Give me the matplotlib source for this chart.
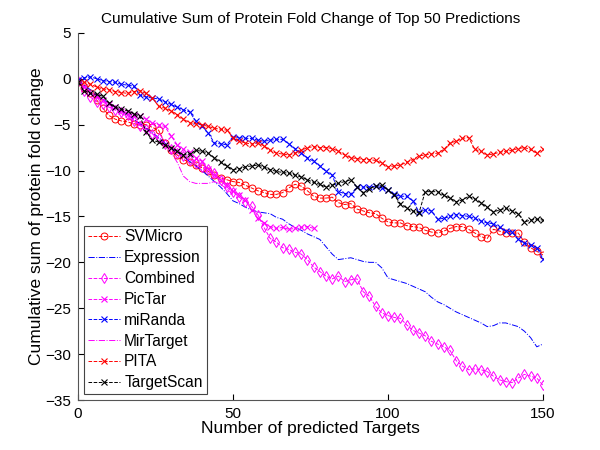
import numpy as np
import matplotlib
matplotlib.use('Agg')
import matplotlib.pyplot as plt

plt.rcParams['font.family'] = ['Liberation Sans', 'DejaVu Sans']

# number of predicted targets (every second one)
targets = np.arange(0, 151, 2)
targets_pictar = np.arange(0, 77, 2)
targets_mirtarget = np.arange(0, 51, 2)

svmicro = [-0.3, -1.0, -1.6, -2.3, -3.2, -4.0, -4.4, -4.6, -4.7, -4.9,
           -5.0, -5.0, -5.3, -5.6, -7.0, -7.8, -8.3, -8.8, -9.1, -9.4,
           -9.7, -10.1, -10.5, -10.8, -11.0, -11.2, -11.3, -11.6, -11.9, -12.2,
           -12.4, -12.6, -12.6, -12.4, -11.9, -11.5, -11.7, -12.2, -12.8, -13.0,
           -13.0, -12.9, -13.5, -13.7, -13.6, -14.2, -14.4, -14.6, -14.7, -15.2,
           -15.6, -15.7, -15.7, -16.0, -16.1, -16.2, -16.5, -16.7, -16.8, -16.6,
           -16.3, -16.1, -16.1, -16.4, -16.8, -17.2, -17.4, -16.4, -16.6, -16.8,
           -16.8, -16.8, -17.8, -18.4, -18.8, -19.2]
expression = [-0.2, -0.7, -1.2, -1.7, -2.2, -2.7, -3.1, -3.5, -3.9, -4.4,
              -4.9, -5.4, -5.9, -6.4, -7.0, -7.5, -8.0, -8.5, -9.0, -9.5,
              -10.0, -10.6, -11.2, -11.8, -12.5, -13.3, -13.6, -14.0, -14.3, -14.5,
              -14.6, -14.7, -15.1, -15.3, -15.8, -16.2, -16.5, -16.9, -17.2, -17.5,
              -18.3, -19.1, -19.7, -19.6, -19.5, -19.7, -19.9, -20.0, -20.0, -20.6,
              -21.7, -21.9, -22.1, -22.3, -22.6, -22.9, -23.2, -23.8, -24.3, -24.6,
              -25.0, -25.4, -25.7, -26.0, -26.3, -26.6, -27.0, -26.9, -26.6, -26.6,
              -26.8, -27.0, -27.5, -28.2, -29.2, -28.9]
combined = [-0.2, -1.3, -2.0, -2.5, -2.8, -3.1, -3.4, -3.6, -4.0, -4.6,
            -5.1, -5.5, -6.0, -6.5, -7.1, -7.7, -8.1, -8.4, -8.8, -9.2,
            -9.6, -9.8, -10.3, -11.0, -11.8, -12.3, -12.9, -13.4, -13.9, -14.8,
            -16.2, -17.4, -17.8, -18.4, -18.6, -18.9, -19.1, -19.7, -20.5, -21.0,
            -21.5, -21.8, -21.5, -22.1, -21.9, -21.8, -23.2, -23.7, -24.8, -25.5,
            -25.8, -26.0, -26.1, -26.8, -27.4, -27.7, -28.0, -28.6, -28.9, -29.2,
            -29.6, -30.7, -31.3, -31.7, -31.6, -31.7, -31.9, -32.4, -32.8, -33.0,
            -33.1, -32.6, -32.2, -32.4, -32.6, -33.4]
pictar = [-0.1, -0.9, -1.5, -1.9, -2.3, -2.7, -3.1, -3.5, -3.8, -4.0,
          -4.1, -4.4, -4.8, -5.0, -5.2, -6.2, -7.2, -7.7, -8.0, -8.6,
          -9.0, -9.8, -10.5, -11.0, -11.6, -12.2, -12.7, -13.2, -14.3, -15.2,
          -15.7, -16.1, -16.3, -16.2, -16.4, -16.3, -16.2, -16.1, -16.3]
miranda = [-0.1, 0.1, 0.2, 0.0, -0.2, -0.3, -0.4, -0.6, -0.7, -0.8,
           -1.8, -2.0, -2.1, -2.2, -2.5, -2.8, -3.1, -3.4, -3.6, -4.6,
           -5.2, -5.9, -7.0, -7.1, -7.2, -6.3, -6.4, -6.5, -6.5, -6.7,
           -6.8, -6.7, -6.6, -6.6, -7.1, -7.6, -8.1, -8.6, -9.0, -9.5,
           -10.1, -10.5, -12.3, -12.5, -12.6, -11.8, -11.8, -11.8, -11.7, -11.9,
           -12.1, -12.6, -12.8, -12.8, -13.3, -14.5, -14.3, -14.4, -15.3, -15.2,
           -15.0, -14.8, -14.9, -15.0, -15.2, -15.5, -15.7, -15.8, -16.2, -16.6,
           -16.7, -17.5, -17.9, -18.1, -18.4, -19.6]
mirtarget = [-0.3, -0.8, -1.4, -2.0, -2.5, -3.0, -3.4, -3.8, -4.2, -4.6,
             -5.0, -5.5, -6.0, -6.6, -7.3, -8.0, -9.1, -10.6, -11.2, -11.4,
             -11.4, -11.4, -11.2, -11.5, -12.0, -12.6]
pita = [-0.3, -0.4, -0.6, -0.9, -1.1, -1.2, -1.4, -1.5, -1.6, -1.4,
        -1.3, -1.6, -2.1, -3.0, -3.2, -3.5, -3.9, -4.4, -4.8, -4.9,
        -5.0, -5.2, -5.4, -5.5, -5.6, -6.4, -6.8, -7.0, -7.1, -7.0,
        -7.3, -7.8, -8.1, -8.2, -8.3, -8.1, -7.8, -7.5, -7.4, -7.5,
        -7.5, -7.6, -7.9, -8.3, -8.6, -8.7, -8.8, -8.8, -8.9, -9.2,
        -9.6, -9.5, -9.4, -9.1, -8.8, -8.4, -8.3, -8.2, -8.1, -7.7,
        -7.0, -6.8, -6.5, -6.4, -7.7, -7.9, -8.3, -8.2, -8.0, -7.9,
        -7.8, -7.6, -7.5, -7.7, -8.1, -7.6]
targetscan = [-0.4, -1.3, -1.6, -1.7, -1.9, -2.6, -3.1, -3.3, -3.5, -3.8,
              -4.1, -5.8, -6.7, -6.9, -7.2, -7.5, -7.9, -8.3, -8.2, -7.8,
              -7.9, -8.1, -8.6, -9.1, -9.5, -9.9, -9.8, -9.6, -9.5, -9.4,
              -9.6, -9.9, -10.1, -10.2, -10.3, -10.5, -10.7, -11.0, -11.3, -11.5,
              -11.8, -11.6, -11.4, -11.2, -11.0, -11.8, -12.4, -12.0, -11.7, -11.6,
              -12.1, -12.7, -13.6, -14.1, -14.4, -14.6, -12.3, -12.3, -12.3, -12.7,
              -13.0, -13.4, -13.2, -12.8, -13.1, -13.5, -14.0, -14.5, -14.3, -14.1,
              -14.4, -14.7, -15.6, -15.4, -15.3, -15.4]

fig = plt.figure(figsize=(6, 4.5), dpi=100)
ax = fig.add_axes([0.13, 0.111, 0.775, 0.816])

lw = 0.7
ax.plot(targets, svmicro, '--', color='red', marker='o', mfc='none', ms=5, mew=0.7, lw=lw, label='SVMicro')
ax.plot(targets, expression, '-.', color='blue', lw=lw, label='Expression')
ax.plot(targets, combined, '--', color='magenta', marker='d', mfc='none', ms=5, mew=0.7, lw=lw, label='Combined')
ax.plot(targets_pictar, pictar, '--', color='magenta', marker='x', ms=4, mew=0.8, lw=lw, label='PicTar')
ax.plot(targets, miranda, '--', color='blue', marker='x', ms=4, mew=0.8, lw=lw, label='miRanda')
ax.plot(targets_mirtarget, mirtarget, '-.', color='magenta', lw=lw, label='MirTarget')
ax.plot(targets, pita, '--', color='red', marker='x', ms=4, mew=0.8, lw=lw, label='PITA')
ax.plot(targets, targetscan, '--', color='black', marker='x', ms=4, mew=0.8, lw=lw, label='TargetScan')

ax.set_xlim(0, 150)
ax.set_ylim(-35, 5)
ax.set_xticks([0, 50, 100, 150])
ax.set_yticks(range(-35, 6, 5))
ax.tick_params(direction='in', length=4, labelsize=11, pad=5, top=False, right=False)
for s in ['top', 'right']:
    ax.spines[s].set_visible(False)
for s in ['left', 'bottom']:
    ax.spines[s].set_color('#555555')

ax.set_title('Cumulative Sum of Protein Fold Change of Top 50 Predictions', fontsize=11, pad=7)
ax.set_xlabel('Number of predicted Targets', fontsize=12.5, labelpad=0)
ax.set_ylabel('Cumulative sum of protein fold change', fontsize=12.5, labelpad=1)

leg = ax.legend(loc='lower left', bbox_to_anchor=(0.013, 0.016), borderaxespad=0,
                fontsize=11.2, numpoints=1, handlelength=2.05, handletextpad=0.28,
                labelspacing=0.375, borderpad=0.25, fancybox=False, framealpha=1,
                edgecolor='#444444')
leg.get_frame().set_linewidth(0.8)

fig.savefig('out.png', dpi=100)
